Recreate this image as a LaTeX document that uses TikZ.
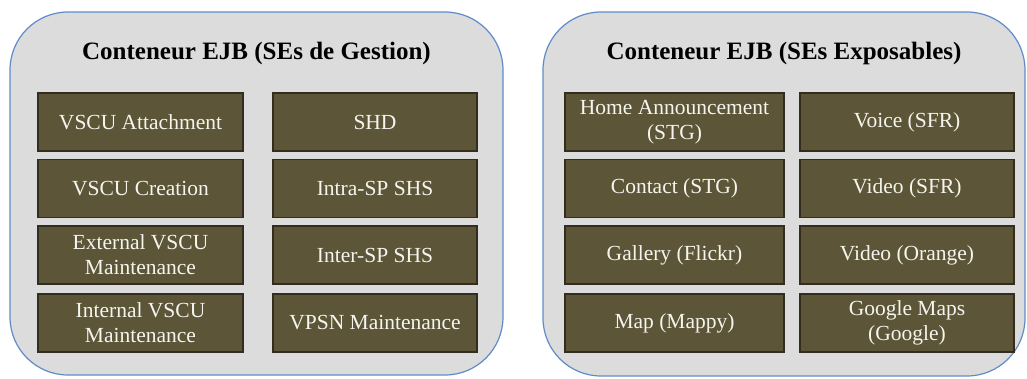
\documentclass[tikz,border=0pt]{standalone}
\usepackage{fontspec}
\setmainfont{Liberation Serif}
\definecolor{contgray}{RGB}{220,220,220}
\definecolor{contblue}{RGB}{95,140,200}
\definecolor{boxfill}{RGB}{92,85,56}
\definecolor{boxedge}{RGB}{50,45,30}
\definecolor{boxtext}{RGB}{245,245,238}
\tikzset{
  container/.style={draw=contblue, fill=contgray, line width=1.2pt, rounded corners=58pt, minimum width=#1, inner sep=0pt},
  contitle/.style={font=\bfseries\fontsize{25}{28}\selectfont, text=black, inner sep=0pt},
  sebox/.style={draw=boxedge, fill=boxfill, line width=1.2pt, text=boxtext, align=center,
    font=\fontsize{21.5}{25}\selectfont, minimum height=58pt, minimum width=#1, inner sep=0pt},
}
\begin{document}
\begin{tikzpicture}[x=1pt,y=-1pt]
\useasboundingbox (0,0) rectangle (1027,378);
% containers
\node[container=493pt, minimum height=363pt] (gest) at (256.5,193.5) {};
\node[container=482pt, minimum height=364pt] (expo) at (784,194) {};
\node[contitle] (tgest) at (256.5,53) {Conteneur EJB (SEs de Gestion)};
\node[contitle] (texpo) at (784,53) {Conteneur EJB (SEs Exposables)};
% left container boxes
\node[sebox=205pt] (a1) at (140.5,122) {VSCU Attachment};
\node[sebox=205pt] (a2) at (140.5,188.5) {VSCU Creation};
\node[sebox=205pt] (a3) at (140.5,255) {External VSCU\\Maintenance};
\node[sebox=205pt] (a4) at (140.5,323) {Internal VSCU\\Maintenance};
\node[sebox=204pt] (b1) at (375,122) {SHD};
\node[sebox=204pt] (b2) at (375,188.5) {Intra-SP SHS};
\node[sebox=204pt] (b3) at (375,255) {Inter-SP SHS};
\node[sebox=204pt] (b4) at (375,323) {VPSN Maintenance};
% right container boxes
\node[sebox=219pt] (c1) at (674.5,122) {Home Announcement\\(STG)};
\node[sebox=219pt] (c2) at (674.5,188.5) {Contact (STG)};
\node[sebox=219pt] (c3) at (674.5,255) {Gallery (Flickr)};
\node[sebox=219pt] (c4) at (674.5,323) {Map (Mappy)};
\node[sebox=214pt] (d1) at (907,122) {Voice (SFR)};
\node[sebox=214pt] (d2) at (907,188.5) {Video (SFR)};
\node[sebox=214pt] (d3) at (907,255) {Video (Orange)};
\node[sebox=214pt] (d4) at (907,323) {Google Maps\\(Google)};
\end{tikzpicture}
\end{document}
